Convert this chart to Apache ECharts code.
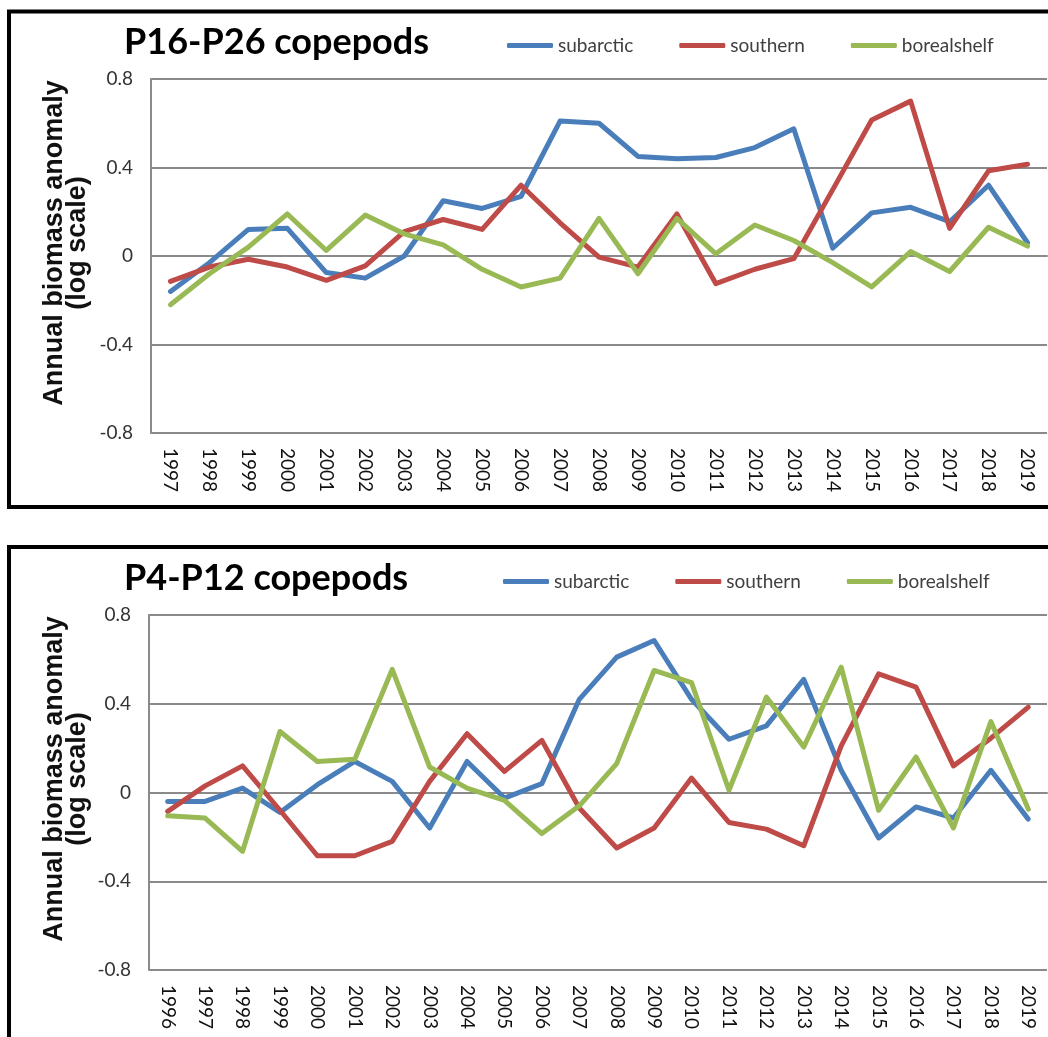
<!DOCTYPE html>
<html>
<head>
<meta charset="utf-8">
<script src="https://cdn.jsdelivr.net/npm/echarts@6/dist/echarts.min.js"></script>
<style>
  html, body { margin: 0; padding: 0; background: #fff; }
  #chart { width: 1048px; height: 1037px; }
</style>
</head>
<body>
<div id="chart"></div>
<script>
  // 年份
  const yearsTop = ['1997', '1998', '1999', '2000', '2001', '2002', '2003', '2004', '2005', '2006', '2007', '2008',
    '2009', '2010', '2011', '2012', '2013', '2014', '2015', '2016', '2017', '2018', '2019']
  const yearsBottom = ['1996', '1997', '1998', '1999', '2000', '2001', '2002', '2003', '2004', '2005', '2006', '2007',
    '2008', '2009', '2010', '2011', '2012', '2013', '2014', '2015', '2016', '2017', '2018', '2019']

  const seriesNames = ['subarctic', 'southern', 'borealshelf']

  // P16-P26
  const topSubarctic = [-0.16, -0.03, 0.12, 0.125, -0.075, -0.10, 0.0, 0.25, 0.215, 0.27, 0.61, 0.60,
    0.45, 0.44, 0.445, 0.49, 0.575, 0.035, 0.195, 0.22, 0.155, 0.32, 0.06]
  const topSouthern = [-0.115, -0.05, -0.015, -0.05, -0.11, -0.045, 0.11, 0.165, 0.12, 0.32, 0.15, -0.005,
    -0.05, 0.19, -0.125, -0.06, -0.012, 0.30, 0.615, 0.70, 0.125, 0.385, 0.415]
  const topBorealshelf = [-0.22, -0.08, 0.04, 0.19, 0.025, 0.185, 0.10, 0.05, -0.06, -0.14, -0.10, 0.17,
    -0.08, 0.17, 0.01, 0.14, 0.07, -0.03, -0.14, 0.02, -0.07, 0.13, 0.045]

  // P4-P12
  const bottomSubarctic = [-0.04, -0.04, 0.02, -0.09, 0.035, 0.14, 0.05, -0.16, 0.14, -0.025, 0.04, 0.42,
    0.61, 0.685, 0.42, 0.24, 0.30, 0.51, 0.10, -0.205, -0.065, -0.115, 0.10, -0.12]
  const bottomSouthern = [-0.085, 0.03, 0.12, -0.08, -0.285, -0.285, -0.22, 0.05, 0.265, 0.095, 0.235, -0.07,
    -0.25, -0.16, 0.065, -0.135, -0.165, -0.24, 0.21, 0.535, 0.475, 0.12, 0.245, 0.385]
  const bottomBorealshelf = [-0.105, -0.115, -0.265, 0.275, 0.14, 0.15, 0.555, 0.115, 0.02, -0.035, -0.185, -0.06,
    0.13, 0.55, 0.495, 0.01, 0.43, 0.205, 0.565, -0.08, 0.16, -0.16, 0.32, -0.075]

  const colors = ['#4A7EBB', '#BE4B48', '#98B954']
  const gridColor = '#8a8a8a'
  const off = 536 // 下半部分的偏移

  function makeX (idx, data) {
    return {
      type: 'category',
      gridIndex: idx,
      data: data,
      boundaryGap: true,
      axisTick: { show: false },
      axisLine: { lineStyle: { color: gridColor, width: 2 } },
      axisLabel: {
        interval: 0,
        rotate: -90,
        margin: 15,
        color: '#111',
        fontFamily: 'Lato',
        fontSize: 19
      }
    }
  }

  function makeY (idx) {
    return {
      type: 'value',
      gridIndex: idx,
      min: -0.8,
      max: 0.8,
      interval: 0.4,
      axisTick: { show: false },
      axisLine: { show: true, lineStyle: { color: gridColor, width: 2 } },
      splitLine: { lineStyle: { color: gridColor, width: 2 } },
      axisLabel: {
        margin: 18,
        color: '#333',
        fontFamily: 'Lato',
        fontSize: 19
      }
    }
  }

  function makeLine (name, idx, data, color) {
    return {
      name: name,
      type: 'line',
      xAxisIndex: idx,
      yAxisIndex: idx,
      data: data,
      symbol: 'none',
      lineStyle: { color: color, width: 5, cap: 'round', join: 'round' },
      itemStyle: { color: color }
    }
  }

  function makeLegend (top, left) {
    return {
      data: seriesNames,
      top: top,
      left: left,
      icon: 'roundRect',
      itemWidth: 46,
      itemHeight: 5,
      itemGap: 46,
      padding: 0,
      textStyle: { color: '#404040', fontFamily: 'Lato', fontSize: 19 }
    }
  }

  function yName (y) {
    return {
      type: 'text',
      x: 66,
      y: y,
      rotation: Math.PI / 2,
      style: {
        text: 'Annual biomass anomaly\n(log scale)',
        align: 'center',
        verticalAlign: 'middle',
        textAlign: 'center',
        textVerticalAlign: 'middle',
        fontFamily: 'Liberation Sans',
        fontWeight: 'bold',
        fontSize: 27,
        lineHeight: 23,
        fill: '#111'
      }
    }
  }

  const chart = echarts.init(document.getElementById('chart'))
  const option = {
    animation: false,
    title: [{
      text: 'P16-P26 copepods',
      left: 124,
      top: 24,
      padding: 0,
      textStyle: { fontFamily: 'Lato', fontWeight: 'bold', fontSize: 36, color: '#000' }
    }, {
      text: 'P4-P12 copepods',
      left: 124,
      top: 24 + off,
      padding: 0,
      textStyle: { fontFamily: 'Lato', fontWeight: 'bold', fontSize: 36, color: '#000' }
    }],
    legend: [makeLegend(36, 507), makeLegend(36 + off, 503)],
    grid: [
      { left: 151, top: 79, width: 896, height: 354 },
      { left: 149, top: 615, width: 898, height: 355 }
    ],
    xAxis: [makeX(0, yearsTop), makeX(1, yearsBottom)],
    yAxis: [makeY(0), makeY(1)],
    series: [
      makeLine(seriesNames[0], 0, topSubarctic, colors[0]),
      makeLine(seriesNames[1], 0, topSouthern, colors[1]),
      makeLine(seriesNames[2], 0, topBorealshelf, colors[2]),
      makeLine(seriesNames[0], 1, bottomSubarctic, colors[0]),
      makeLine(seriesNames[1], 1, bottomSouthern, colors[1]),
      makeLine(seriesNames[2], 1, bottomBorealshelf, colors[2])
    ],
    graphic: [
      // 外框
      { type: 'rect', shape: { x: 9, y: 11.5, width: 1200, height: 495.5 }, style: { fill: 'none', stroke: '#000', lineWidth: 4 } },
      { type: 'rect', shape: { x: 9, y: 547, width: 1200, height: 700 }, style: { fill: 'none', stroke: '#000', lineWidth: 4 } },
      yName(243),
      yName(243 + off)
    ]
  }
  chart.setOption(option)
  window.addEventListener('resize', chart.resize)
</script>
</body>
</html>
